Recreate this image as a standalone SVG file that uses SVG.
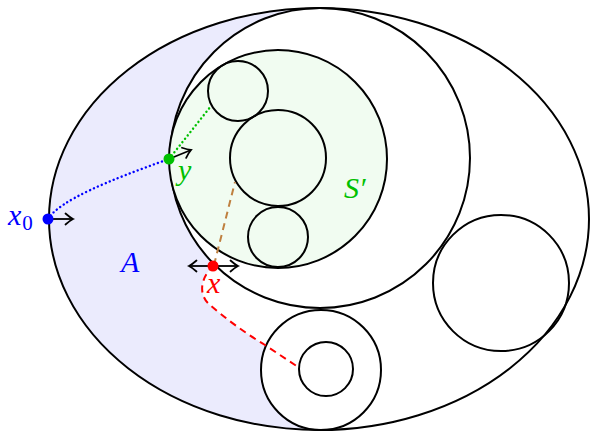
<svg xmlns="http://www.w3.org/2000/svg" width="590" height="432" viewBox="0 0 590 432">
<defs>
<style>
.c{fill:none;stroke:#000;stroke-width:2}
.g{fill:#f1fcf1;stroke:#000;stroke-width:2}
.lbl{font-family:"Liberation Serif","DejaVu Serif",serif;font-style:italic;font-size:30px}
.arr{stroke:#000;stroke-width:1.8;fill:none;marker-end:url(#ah)}
</style>
<marker id="ah" markerWidth="14" markerHeight="14" refX="10" refY="7" orient="auto" markerUnits="userSpaceOnUse">
<path d="M2.5,1.5 Q7,5.5 10,7 Q7,8.5 2.5,12.5" fill="none" stroke="#000" stroke-width="1.8" stroke-linecap="round"/>
</marker>
</defs>
<rect width="590" height="432" fill="#fff"/>
<g id="regionA">
<path d="M319 8 A270 211 0 0 0 49 219 A270 211 0 0 0 321 430 A60 60 0 0 1 266.2 345.8 L265 345 C245 333 225 318 210 305 C198 295 200 278 214 265 A150 150 0 0 1 320 8 Z" fill="#ebebfd" stroke="none"/>
</g>
<g id="ellipse"><ellipse class="c" cx="319" cy="219" rx="270" ry="211"/></g>
<g id="bigCircle"><circle class="c" cx="320" cy="158" r="150"/></g>
<g id="Sprime"><circle class="g" cx="278" cy="159" r="109"/></g>
<g id="c1"><circle class="c" cx="238" cy="91" r="30"/></g>
<g id="c2"><circle class="c" cx="278" cy="158" r="48"/></g>
<g id="c3"><circle class="c" cx="278" cy="237" r="30"/></g>
<g id="c4"><circle class="c" cx="501" cy="283" r="68"/></g>
<g id="c5"><circle class="c" cx="321" cy="370" r="60"/></g>
<g id="c6"><circle class="c" cx="326" cy="369" r="27"/></g>
<g id="connectors">
<path d="M48 219 C60 200 110 180 169 159" fill="none" stroke="#0000ff" stroke-width="2.4" stroke-dasharray="0.1 4.2" stroke-linecap="round"/>
<path d="M169 159 L211 106" fill="none" stroke="#00c000" stroke-width="2.4" stroke-dasharray="0.1 4.2" stroke-linecap="round"/>
<path d="M214 265 L235 182" fill="none" stroke="#bf8040" stroke-width="2" stroke-dasharray="7 5"/>
<path d="M214 265 C200 278 198 295 210 305 C225 318 245 333 265 345 L298 367" fill="none" stroke="#ff0000" stroke-width="2" stroke-dasharray="7 5"/>
<line class="arr" x1="48" y1="219" x2="73" y2="219"/>
<line class="arr" x1="169" y1="159" x2="191" y2="150"/>
<line class="arr" x1="213" y1="266" x2="238" y2="266"/>
<line class="arr" x1="213" y1="266" x2="189" y2="266"/>
</g>
<g id="points">
<circle cx="48" cy="219" r="5.5" fill="#0000ff"/>
<circle cx="169" cy="159" r="5.5" fill="#00c000"/>
<circle cx="213" cy="266" r="5.5" fill="#ff0000"/>
</g>
<g id="labels">
<text class="lbl" x="8" y="225" fill="#0000ff">x<tspan font-style="normal" font-size="21" dx="1" dy="5">0</tspan></text>
<text class="lbl" x="178" y="180" fill="#00c000">y</text>
<text class="lbl" x="207" y="293" fill="#ff0000">x</text>
<text class="lbl" x="121" y="272" fill="#0000ff">A</text>
<text class="lbl" x="344" y="198" fill="#00c000">S′</text>
</g>
</svg>
